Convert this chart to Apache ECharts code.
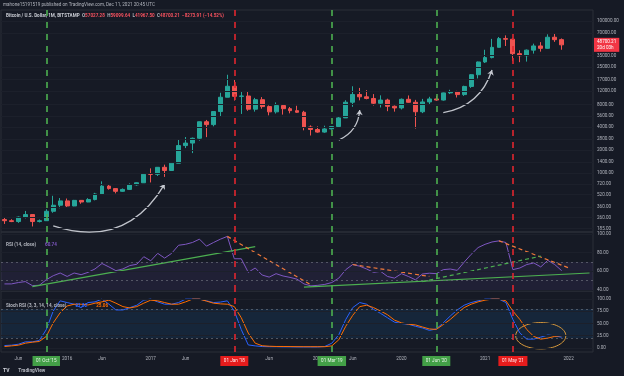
<!DOCTYPE html>
<html>
<head>
<meta charset="utf-8">
<script src="https://cdn.jsdelivr.net/npm/echarts@6/dist/echarts.min.js"></script>
<style>
  html, body { margin: 0; padding: 0; background: #161a25; }
  #chart { width: 624px; height: 376px; }
</style>
</head>
<body>
<div id="chart"></div>
<script>
// monthly bars, Apr 2015 .. Dec 2021, plus empty right margin months
const months = [
  '2015-04', '2015-05', '2015-06', '2015-07', '2015-08', '2015-09', '2015-10', '2015-11', '2015-12',
  '2016-01', '2016-02', '2016-03', '2016-04', '2016-05', '2016-06', '2016-07', '2016-08', '2016-09', '2016-10', '2016-11', '2016-12',
  '2017-01', '2017-02', '2017-03', '2017-04', '2017-05', '2017-06', '2017-07', '2017-08', '2017-09', '2017-10', '2017-11', '2017-12',
  '2018-01', '2018-02', '2018-03', '2018-04', '2018-05', '2018-06', '2018-07', '2018-08', '2018-09', '2018-10', '2018-11', '2018-12',
  '2019-01', '2019-02', '2019-03', '2019-04', '2019-05', '2019-06', '2019-07', '2019-08', '2019-09', '2019-10', '2019-11', '2019-12',
  '2020-01', '2020-02', '2020-03', '2020-04', '2020-05', '2020-06', '2020-07', '2020-08', '2020-09', '2020-10', '2020-11', '2020-12',
  '2021-01', '2021-02', '2021-03', '2021-04', '2021-05', '2021-06', '2021-07', '2021-08', '2021-09', '2021-10', '2021-11', '2021-12',
  '2022-01', '2022-02', '2022-03', '2022-04'
]

const priceOpen = [
  244, 236, 230, 263, 284, 230, 236, 314, 377,
  430, 369, 437, 416, 448, 531, 673, 624, 575, 609, 700, 745,
  963, 961, 1190, 1080, 1348, 2300, 2480, 2870, 4735, 4340, 6450, 9950,
  13880, 10220, 10330, 6925, 9240, 7495, 6390, 7730, 7030, 6625, 6310, 4040,
  3740, 3460, 3810, 4100, 5320, 8550, 10820, 10080, 9590, 8290, 9140, 7560,
  7190, 9350, 8540, 6410, 8630, 9450, 9135, 11350, 11650, 10780, 13800, 19700,
  28990, 33110, 45160, 58800, 57700, 37300, 35040, 41490, 47100, 43800, 61300, 57027.28
]
const priceHigh = [
  261, 247, 268, 317, 285, 245, 334, 502, 469,
  462, 443, 439, 467, 549, 778, 704, 625, 627, 731, 755, 979,
  1153, 1200, 1290, 1350, 2760, 2980, 2930, 4780, 5000, 6470, 11400, 19666,
  17180, 11780, 11700, 9760, 9990, 7760, 8500, 7760, 7400, 7680, 6590, 4240,
  4110, 4200, 4140, 5600, 9090, 13880, 13200, 12330, 10950, 10540, 9520, 7750,
  9580, 10500, 9190, 9460, 10080, 10380, 11450, 12470, 12080, 14100, 19950, 29300,
  41950, 58350, 61780, 64900, 59600, 41330, 42300, 50500, 52900, 67000, 69000, 59099.64
]
const priceLow = [
  214, 226, 221, 253, 198, 224, 235, 300, 344,
  354, 366, 394, 414, 437, 521, 605, 540, 565, 600, 682, 742,
  752, 915, 890, 1080, 1348, 2130, 1830, 2670, 2970, 4120, 5550, 9950,
  9000, 6000, 6600, 6430, 7030, 5750, 6070, 5880, 6110, 6200, 3650, 3120,
  3390, 3390, 3730, 4100, 5320, 7450, 9060, 9340, 7740, 7300, 6520, 6430,
  6870, 8450, 3850, 6150, 8100, 8930, 8980, 10960, 9880, 10370, 13200, 17600,
  28100, 32330, 44950, 47000, 30000, 28800, 29300, 37330, 39600, 43300, 53250, 41967.5
]
const priceClose = [
  236, 230, 263, 284, 230, 236, 314, 377, 430,
  369, 437, 416, 448, 531, 673, 624, 575, 609, 700, 745, 963,
  961, 1190, 1080, 1348, 2300, 2480, 2870, 4735, 4340, 6450, 9950, 13880,
  10220, 10330, 6925, 9240, 7495, 6390, 7730, 7030, 6625, 6310, 4040, 3740,
  3460, 3810, 4100, 5320, 8550, 10820, 10080, 9590, 8290, 9140, 7560, 7190,
  9350, 8540, 6410, 8630, 9450, 9135, 11350, 11650, 10780, 13800, 19700, 28990,
  33110, 45160, 58800, 57700, 37300, 35040, 41490, 47100, 43800, 61300, 56974, 48700.21
]

const rsi = [
  46.5, 46.5, 48, 49, 44.7, 45, 51, 55.3, 58.2,
  54.5, 58.2, 56.4, 58.9, 62.6, 68.4, 64.7, 60.7, 62.6, 66.2, 67.6, 75.7,
  71.3, 79.3, 74.2, 79.3, 88, 89, 91, 94.5, 87, 90.9, 94.5, 97.5,
  73.5, 73.5, 58.9, 63.6, 56, 53.8, 57.5, 55, 53.5, 51.6, 46.5, 44.4,
  45, 46, 48, 52.7, 61.8, 67.3, 65.5, 62.5, 58.9, 60, 54.5, 52.7,
  57.5, 54.5, 50.9, 57.1, 58, 57.5, 61.8, 62.5, 61, 69.8, 78.2, 85.5,
  89, 91.5, 92.7, 90.9, 61.8, 63.6, 67.3, 69, 64.7, 71.8, 67.3, 60.74
]
const stochK = [
  4.9, 5.6, 7.6, 12.5, 12.5, 15.3, 37.5, 75.7, 96.5,
  93, 89.6, 82.6, 93, 94.4, 100, 89.6, 77.8, 77.8, 82.6, 87.5, 98,
  100, 94.4, 89.6, 89.6, 93, 100, 100, 100, 96.5, 93, 94, 96.5,
  75.7, 37.5, 6.2, 4.2, 2.8, 2.5, 2.5, 2.2, 2.2, 2, 2, 2,
  2, 3, 9.7, 27, 58.3, 82.6, 93, 89.6, 79, 70.8, 61.8, 52.8,
  50, 48.6, 44.4, 41, 36, 38.9, 51.4, 65.3, 77.8, 87.5, 93, 96.5,
  100, 100, 100, 93, 58.3, 30.6, 18, 18, 22.2, 26.4, 25, 21.82
]
const stochD = [
  2.8, 4.2, 5.6, 9.7, 11.8, 13.2, 23.6, 51.4, 72.2,
  86, 89.6, 89.6, 88, 91.7, 94.4, 98, 91.7, 84.7, 81.9, 84.7, 91.7,
  97.9, 96.5, 93, 89.6, 89.6, 94.4, 100, 100, 96, 91.7, 90.3, 89.6,
  84.7, 61.8, 30.6, 9.7, 4.5, 3.5, 3, 3, 2.8, 2.6, 2.5, 2.5,
  2.5, 2.5, 4.2, 16.7, 44.4, 66.7, 84.7, 87.5, 82.6, 75.7, 68, 57,
  51.4, 48.6, 47.2, 43, 38.9, 38, 47.9, 58.3, 70.8, 82.6, 89.6, 94.4,
  97.9, 100, 100, 96.5, 75.7, 58.3, 37.5, 23.6, 18, 20.1, 23.6, 25.06
]

// right scale tick labels
const priceTicks = [100000, 70000, 35000, 25000, 17000, 12000, 8000, 5600, 4000, 2800, 2000, 1400, 1000, 720, 520, 360, 260, 185]
const rsiTicks = [100, 80, 60, 40]
const stochTicks = [100, 75, 50, 25, 0]
const lastPrice = 48700.21

// vertical date markers: [month, axis text, colour key]
const markers = [
  ['2015-10', "01 Oct '15", 'g'],
  ['2018-01', "01 Jan '18", 'r'],
  ['2019-03', "01 Mar '19", 'g'],
  ['2020-06', "01 Jun '20", 'g'],
  ['2021-05', "01 May '21", 'r']
]

// hand-drawn arrows on the price pane: [month index, price]
const arrowFrom = [[7, 201], [48, 2717], [63, 6222]]
const arrowTo = [[23, 716], [51, 6744], [70, 22700]]
const arrowBend = [-0.4, -0.3, -0.3]

// trend lines on the RSI pane
const rsiGreenLines = [[[4, 43.6], [36, 86.5]], [[43, 43], [84, 58.2]]]
const rsiOrangeLines = [[[32, 97.5], [44, 45.5]], [[50, 67.3], [61, 54.5]], [[71, 92.7], [81, 63.7]]]
const rsiGreenDashed = [[60, 49], [77, 76.3]]

// circled area on the Stoch RSI pane: [month index, value, months wide, value tall]
const stochCircle = [[77, 25, 7.2, 54]]

const GREEN = '#4caf50'
const RED = '#e0262f'
const TXT = '#b2b5be'
const FONT = 'Roboto'
const rsiMin = 38.9
const rsiMax = 102.2

const chart = echarts.init(document.getElementById('chart'))

const markerLookup = {}
markers.forEach(m => { markerLookup[m[0]] = m })

function tickLines (ticks) {
  return ticks.map(v => ({ yAxis: v, label: { formatter: v.toFixed(2) } }))
}
function dateLines () {
  return markers.map(m => ({
    xAxis: m[0],
    label: { show: false },
    lineStyle: { color: m[2] === 'g' ? GREEN : RED, type: [6, 6], width: 1.6, opacity: 1 }
  }))
}
const markLineBase = {
  silent: true,
  animation: false,
  symbol: ['none', 'none'],
  lineStyle: { color: '#1c202b', width: 1, type: 'solid' },
  label: { position: 'end', distance: 4, color: TXT, fontSize: 4.6, fontFamily: FONT }
}

function xAxisFor (gridIndex, showLabels) {
  return {
    type: 'category',
    gridIndex,
    data: months,
    boundaryGap: true,
    axisLine: { show: false },
    axisTick: { show: false },
    splitLine: { show: false },
    axisLabel: {
      show: showLabels,
      interval: 0,
      margin: 4,
      color: TXT,
      fontSize: 4.6,
      fontFamily: FONT,
      formatter: val => {
        const m = markerLookup[val]
        if (m) return '{' + m[2] + '|' + m[1] + '}'
        if (val === '2021-06') return ''
        const parts = val.split('-')
        if (parts[1] === '01') return parts[0]
        if (parts[1] === '06') return 'Jun'
        return ''
      },
      rich: {
        g: { backgroundColor: '#43a047', color: '#e8f5e9', padding: [2.5, 3.5], fontSize: 4.6, fontFamily: FONT },
        r: { backgroundColor: '#e61c1c', color: '#ffebee', padding: [2.5, 3.5], fontSize: 4.6, fontFamily: FONT }
      }
    }
  }
}

const gridBase = { left: 1, right: 31, show: true, borderColor: '#2a2e39', borderWidth: 1, backgroundColor: 'transparent' }

const option = {
  backgroundColor: '#161a25',
  animation: false,
  textStyle: { fontFamily: FONT },
  title: [
    {
      text: 'mahone15191519 published on TradingView.com, Dec 11, 2021 20:45 UTC',
      left: 3, top: 2, padding: 0,
      textStyle: { fontSize: 4.6, color: TXT, fontWeight: 'normal', fontFamily: FONT }
    },
    {
      text: '{n|Bitcoin / U.S. Dollar, 1M, BITSTAMP}  {k|O}{v|57027.28}  {k|H}{v|59099.64}  {k|L}{v|41967.50}  {k|C}{v|48700.21}  {v|\u22128273.91 (\u221214.52%)}',
      left: 6, top: 13, padding: 0,
      textStyle: {
        fontSize: 4.6,
        rich: {
          n: { color: '#c8cbd3', fontSize: 4.6, fontFamily: FONT },
          k: { color: TXT, fontSize: 4.6, fontFamily: FONT },
          v: { color: '#f7525f', fontSize: 4.6, fontFamily: FONT }
        }
      }
    },
    {
      text: '{n|RSI (14, close)}  {p|60.74}',
      left: 6, top: 236, padding: 0,
      textStyle: {
        rich: {
          n: { color: TXT, fontSize: 4.6, fontFamily: FONT },
          p: { color: '#7e57c2', fontSize: 4.6, fontFamily: FONT }
        }
      }
    },
    {
      text: '{n|Stoch RSI (3, 3, 14, 14, close)}  {b|21.82}  {o|25.06}',
      left: 6, top: 297, padding: 0,
      textStyle: {
        rich: {
          n: { color: TXT, fontSize: 4.6, fontFamily: FONT },
          b: { color: '#2962ff', fontSize: 4.6, fontFamily: FONT },
          o: { color: '#ff6d00', fontSize: 4.6, fontFamily: FONT }
        }
      }
    },
    {
      text: '{l|TV}  {t|TradingView}',
      left: 3, top: 362, padding: 0,
      textStyle: {
        rich: {
          l: { color: '#d1d4dc', fontSize: 5, fontWeight: 'bold', fontFamily: FONT },
          t: { color: TXT, fontSize: 4.8, fontFamily: FONT }
        }
      }
    }
  ],
  grid: [
    Object.assign({ top: 10, height: 222 }, gridBase),
    Object.assign({ top: 232, height: 59 }, gridBase),
    Object.assign({ top: 291, height: 61 }, gridBase)
  ],
  xAxis: [xAxisFor(0, false), xAxisFor(1, false), xAxisFor(2, true)],
  yAxis: [
    {
      type: 'log', gridIndex: 0, position: 'right', min: 167.5, max: 140000,
      axisLabel: { show: false }, axisLine: { show: false }, axisTick: { show: false }, splitLine: { show: false }
    },
    {
      type: 'value', gridIndex: 1, position: 'right', min: rsiMin, max: rsiMax,
      axisLabel: { show: false }, axisLine: { show: false }, axisTick: { show: false }, splitLine: { show: false }
    },
    {
      type: 'value', gridIndex: 2, position: 'right', min: -8.33, max: 116.67,
      axisLabel: { show: false }, axisLine: { show: false }, axisTick: { show: false }, splitLine: { show: false }
    }
  ],
  series: [
    {
      type: 'candlestick',
      name: 'BTCUSD',
      xAxisIndex: 0,
      yAxisIndex: 0,
      clip: false,
      barWidth: 4.4,
      data: priceOpen.map((o, i) => [o, priceClose[i], priceLow[i], priceHigh[i]]),
      itemStyle: {
        color: '#26a69a', color0: '#ef5350',
        borderColor: '#26a69a', borderColor0: '#ef5350', borderWidth: 1
      },
      markLine: Object.assign({}, markLineBase, {
        data: tickLines(priceTicks).concat(dateLines(), [{
          yAxis: lastPrice,
          lineStyle: { color: 'rgba(0,0,0,0)' },
          label: {
            formatter: '48700.21\n20d 03h',
            backgroundColor: '#f23645',
            color: '#fff',
            padding: [1.5, 3],
            distance: 1,
            lineHeight: 5.5,
            fontSize: 4.6
          }
        }])
      })
    },
    {
      type: 'lines',
      coordinateSystem: 'cartesian2d',
      xAxisIndex: 0,
      yAxisIndex: 0,
      silent: true,
      symbol: ['none', 'arrow'],
      symbolSize: 5,
      lineStyle: { color: '#c9ccd4', width: 1.3, opacity: 0.95 },
      data: arrowFrom.map((p, i) => ({ coords: [p, arrowTo[i]], lineStyle: { curveness: arrowBend[i] } }))
    },
    {
      type: 'line',
      name: 'RSI',
      xAxisIndex: 1,
      yAxisIndex: 1,
      clip: false,
      data: rsi,
      showSymbol: false,
      lineStyle: { color: '#7e57c2', width: 1 },
      markArea: {
        silent: true,
        itemStyle: { color: 'rgba(126, 87, 194, 0.1)' },
        data: [[{ yAxis: 70 }, { yAxis: rsiMin }]]
      },
      markLine: Object.assign({}, markLineBase, {
        data: tickLines(rsiTicks).concat(dateLines(), [
          { yAxis: 70, label: { show: false }, lineStyle: { color: '#787b86', type: [2, 3], opacity: 0.6 } },
          { yAxis: 50, label: { show: false }, lineStyle: { color: '#787b86', type: [2, 3], opacity: 0.6 } }
        ])
      })
    },
    ...rsiGreenLines.map(seg => ({
      type: 'line', xAxisIndex: 1, yAxisIndex: 1, data: seg, showSymbol: false, silent: true,
      lineStyle: { color: GREEN, width: 1.2 }
    })),
    ...rsiOrangeLines.map(seg => ({
      type: 'line', xAxisIndex: 1, yAxisIndex: 1, data: seg, showSymbol: false, silent: true,
      lineStyle: { color: '#f0793a', width: 1.2, type: [4, 3] }
    })),
    {
      type: 'line', xAxisIndex: 1, yAxisIndex: 1, data: rsiGreenDashed, showSymbol: false, silent: true,
      lineStyle: { color: GREEN, width: 1.2, type: [4, 3] }
    },
    {
      type: 'line',
      name: 'K',
      xAxisIndex: 2,
      yAxisIndex: 2,
      clip: false,
      data: stochK,
      showSymbol: false,
      lineStyle: { color: '#2962ff', width: 1 },
      markArea: {
        silent: true,
        itemStyle: { color: 'rgba(33, 150, 243, 0.1)' },
        data: [[{ yAxis: 80 }, { yAxis: 20 }]]
      },
      markLine: Object.assign({}, markLineBase, {
        data: tickLines(stochTicks).concat(dateLines(), [
          { yAxis: 80, label: { show: false }, lineStyle: { color: '#787b86', type: [2, 3], opacity: 0.6 } },
          { yAxis: 20, label: { show: false }, lineStyle: { color: '#787b86', type: [2, 3], opacity: 0.6 } }
        ])
      })
    },
    {
      type: 'line',
      name: 'D',
      xAxisIndex: 2,
      yAxisIndex: 2,
      data: stochD,
      showSymbol: false,
      lineStyle: { color: '#ff6d00', width: 1 }
    },
    {
      type: 'custom',
      xAxisIndex: 2,
      yAxisIndex: 2,
      silent: true,
      data: stochCircle,
      renderItem: (params, api) => {
        const c = api.coord([api.value(0), api.value(1)])
        const band = api.size([1, 0])[0]
        const tall = api.size([0, api.value(3)])[1]
        return {
          type: 'ellipse',
          shape: { cx: c[0], cy: c[1], rx: band * api.value(2) / 2, ry: tall / 2 },
          style: { fill: 'none', stroke: '#d99a3c', lineWidth: 1 }
        }
      }
    }
  ]
}

chart.setOption(option)
</script>
</body>
</html>
